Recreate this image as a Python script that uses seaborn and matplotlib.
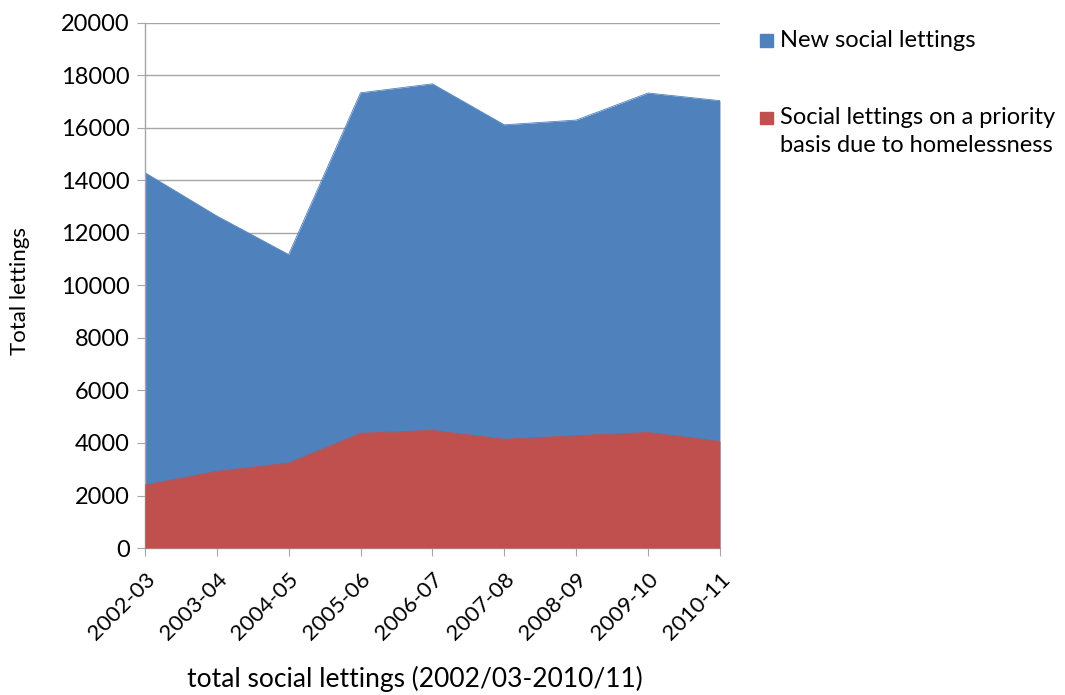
import matplotlib
matplotlib.use("Agg")
import matplotlib.pyplot as plt
from matplotlib.patches import Rectangle
import seaborn as sns
import pandas as pd

# data
years = ["2002-03", "2003-04", "2004-05", "2005-06", "2006-07",
         "2007-08", "2008-09", "2009-10", "2010-11"]
new_lettings = [14300, 12650, 11180, 17340, 17680, 16120, 16300, 17330, 17040]
priority_lettings = [2400, 2920, 3240, 4370, 4480, 4140, 4280, 4400, 4060]

BLUE = "#4f81bd"
RED = "#c0504d"
GRID = "#a6a6a6"


def main():
    sns.set_style("white")
    plt.rcParams['font.family'] = ['Lato', 'DejaVu Sans']
    plt.rcParams['text.color'] = 'black'
    plt.rcParams['axes.labelcolor'] = 'black'
    plt.rcParams['xtick.color'] = 'black'
    plt.rcParams['ytick.color'] = 'black'

    df = pd.DataFrame({"year": years, "pos": range(len(years)),
                       "new": new_lettings, "priority": priority_lettings})

    fig = plt.figure(figsize=(10.65, 6.95), dpi=100)
    ax = fig.add_axes([0.136, 0.2115, 0.54, 0.7555])

    # areas (overlapping, both from zero)
    ax.fill_between(df["pos"], 0, df["new"], color=BLUE, lw=0, zorder=2)
    ax.fill_between(df["pos"], 0, df["priority"], color=RED, lw=0, zorder=3)
    sns.lineplot(data=df, x="pos", y="new", color=BLUE, lw=0.6, ax=ax, zorder=2)
    sns.lineplot(data=df, x="pos", y="priority", color=RED, lw=0.6, ax=ax, zorder=3)

    ax.set_xlim(0, len(years) - 1)
    ax.set_ylim(0, 20000)
    ax.set_yticks(range(0, 20001, 2000))
    ax.set_xticks(df["pos"])
    ax.set_xticklabels(years, rotation=45, ha="right", rotation_mode="anchor", fontsize=16)
    ax.tick_params(axis="y", labelsize=17, length=6, color=GRID, pad=5, direction="out", left=True)
    ax.tick_params(axis="x", length=6, color=GRID, pad=9, direction="out", bottom=True)

    ax.grid(axis="y", color=GRID, lw=1, zorder=0)
    ax.set_axisbelow(True)
    for side in ["top", "right"]:
        ax.spines[side].set_visible(False)
    for side in ["left", "bottom"]:
        ax.spines[side].set_color(GRID)
        ax.spines[side].set_linewidth(1)

    ax.set_xlabel("total social lettings (2002/03-2010/11)", fontsize=19)
    ax.xaxis.set_label_coords(0.47, -0.225)
    ax.set_ylabel("Total lettings", fontsize=16)
    ax.yaxis.set_label_coords(-0.2, 0.49)

    # legend at the right
    fig.add_artist(Rectangle((0.714, 0.933), 0.0115, 0.0175, transform=fig.transFigure,
                             color=BLUE))
    fig.text(0.732, 0.942, "New social lettings", fontsize=17, va="center")
    fig.add_artist(Rectangle((0.714, 0.822), 0.0115, 0.0175, transform=fig.transFigure,
                             color=RED))
    fig.text(0.732, 0.831, "Social lettings on a priority", fontsize=17, va="center")
    fig.text(0.732, 0.790, "basis due to homelessness", fontsize=17, va="center")

    fig.savefig("out.png", dpi=100)


if __name__ == "__main__":
    main()
